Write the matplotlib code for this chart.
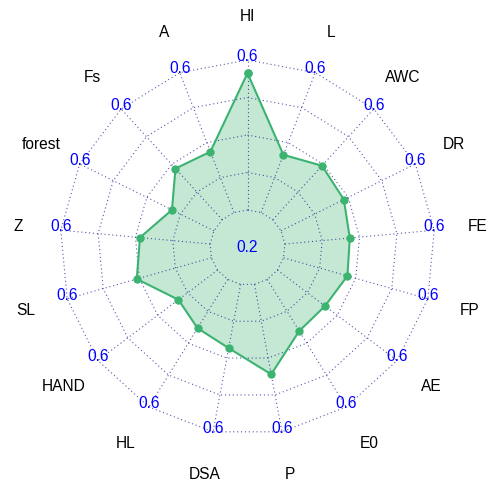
import numpy as np
import matplotlib
matplotlib.use("Agg")
import matplotlib.pyplot as plt

plt.rcParams['font.family'] = ['Liberation Sans', 'DejaVu Sans']

# variables, clockwise from the top
labels = ['HI', 'L', 'AWC', 'DR', 'FE', 'FP', 'AE', 'E0', 'P',
          'DSA', 'HL', 'HAND', 'SL', 'Z', 'forest', 'Fs', 'A']
values = [0.565, 0.365, 0.395, 0.387, 0.374, 0.377, 0.359, 0.362, 0.444,
          0.373, 0.353, 0.331, 0.407, 0.388, 0.325, 0.385, 0.374]
vmin, vmax = 0.2, 0.6
seg = 4
max_label = '0.6'
min_label = '0.2'

n = len(labels)
theta = np.deg2rad(90 - np.arange(n) * 360.0 / n)
ux, uy = np.cos(theta), np.sin(theta)

fig = plt.figure(figsize=(4.86, 4.86), dpi=100)
ax = fig.add_axes([0, 0, 1, 1])
ax.set_xlim(-1.32, 1.272)
ax.set_ylim(-1.272, 1.32)
ax.set_aspect('equal')
ax.axis('off')

grid_style = dict(color='navy', lw=0.8, alpha=0.65, linestyle=(0, (1, 2.5)))

# concentric polygons, the innermost one marks the minimum
for i in range(seg + 1):
    f = (i + 1) / (seg + 1)
    ax.plot(np.append(ux, ux[0]) * f, np.append(uy, uy[0]) * f, **grid_style)

# spokes from the inner ring to the outer ring
f0 = 1 / (seg + 1)
for x, y in zip(ux, uy):
    ax.plot([x * f0, x], [y * f0, y], **grid_style)

# data polygon
frac = (1 + (np.array(values) - vmin) / (vmax - vmin) * seg) / (seg + 1)
px, py = ux * frac, uy * frac
ax.fill(px, py, color='mediumseagreen', alpha=0.3, lw=0)
ax.plot(np.append(px, px[0]), np.append(py, py[0]), color='mediumseagreen',
        lw=1.5, marker='o', markersize=5)

# axis max labels and centre label
for x, y in zip(ux, uy):
    ax.text(x, y + 0.02, max_label, color='blue', fontsize=11.2,
            ha='center', va='center')
ax.text(0, 0, min_label, color='blue', fontsize=11.2, ha='center', va='center')

# variable names
for lab, x, y in zip(labels, ux, uy):
    ax.text(x * 1.23, y * 1.23, lab, color='black', fontsize=11.2,
            ha='center', va='center')

fig.savefig('out.png', dpi=100, facecolor='white')
